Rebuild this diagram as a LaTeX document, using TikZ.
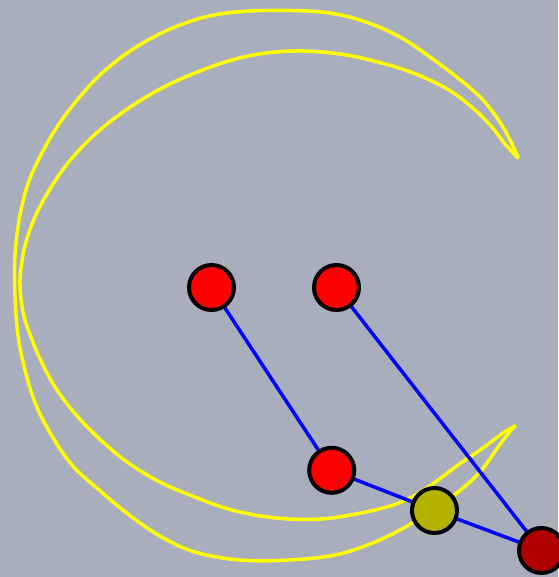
\documentclass[tikz,border=0pt]{standalone}
\usetikzlibrary{backgrounds}
\definecolor{bg}{RGB}{168,174,187}
\definecolor{ylw}{RGB}{255,255,0}
\definecolor{blu}{RGB}{0,0,255}
\definecolor{olv}{RGB}{180,180,0}
\definecolor{dkred}{RGB}{176,0,0}
\begin{document}
\begin{tikzpicture}[x=1pt,y=-1pt,
  ball/.style={circle, draw=black, line width=4pt, minimum size=45pt, inner sep=0pt},
  yarc/.style={draw=ylw, line width=3.5pt, line join=round, line cap=round},
  link/.style={draw=blu, line width=3.5pt}]
\path[use as bounding box] (0,0) rectangle (558,577);
\node[ball, fill=red] (a) at (211.5,287.5) {};
\node[ball, fill=red] (b) at (336.5,287.5) {};
\node[ball, fill=red] (c) at (331.7,470.3) {};
\node[ball, fill=olv] (d) at (434.5,510.5) {};
\node[ball, fill=dkred] (e) at (541.5,550.5) {};
\begin{scope}[on background layer]
\fill[bg] (0,0) rectangle (558,577);
\draw[yarc] plot[smooth, tension=0.6] coordinates {
(518,157) (503,127) (483,100) (458,78) (430,57) (400,37) (366,22) (330,13)
(290,10.5) (250,11) (214,15) (180,25) (150,39) (123,56) (99,76) (78,99)
(59,124) (43,151) (29,181) (20,215) (15,255) (15,295) (18,335) (25,370)
(36,405) (52,436) (72,465) (98,489) (128,514) (160,536) (195,552) (240,560)
(290,560) (335,555) (370,544) (400,530) (430,512) (458,492) (480,472)
(496,450) (508,434) (515,426)};
\draw[yarc] plot[smooth, tension=0.6] coordinates {
(518,158) (505,144) (492,127) (475,110) (455,94) (434,82) (405,70) (370,60)
(340,54) (303,51) (266,53) (232,60) (200,71) (168,85) (138,102) (111,121)
(88,141) (68,163) (50,189) (35,217) (25,246) (20,280) (23,312) (31,337)
(42,363) (57,390) (78,417) (104,443) (130,464) (160,482) (195,497) (232,510)
(276,518) (320,519) (356,514) (390,506) (412,497) (434,483) (458,465)
(483,448) (503,433) (515,426)};
\draw[link] (a) -- (c);
\draw[link] (c) -- (d);
\draw[link] (d) -- (e);
\draw[link] (b) -- (e);
\end{scope}
\end{tikzpicture}
\end{document}
